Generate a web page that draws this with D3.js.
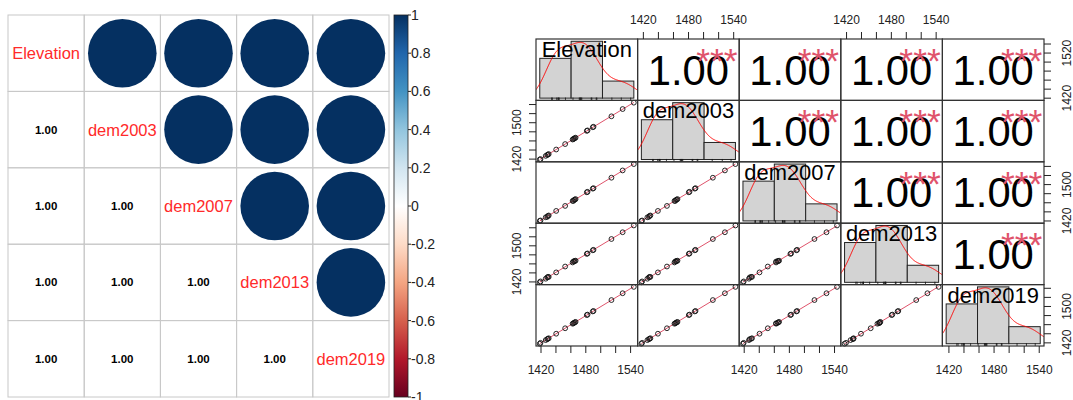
<!DOCTYPE html>
<html>
<head>
<meta charset="utf-8">
<script src="https://cdn.jsdelivr.net/npm/d3@7"></script>
<style>
body { margin: 0; background: #fff; }
svg { display: block; font-family: "Liberation Sans", Arial, sans-serif; }
</style>
</head>
<body>
<div id="chart"></div>
<script>
var varNames = ["Elevation", "dem2003", "dem2007", "dem2013", "dem2019"];

var elevation = [1419, 1420, 1427, 1429, 1430, 1431, 1441, 1453, 1463, 1464, 1465, 1466, 1467, 1482, 1483, 1490, 1491, 1515, 1530, 1545];
var dem2003 = [1418, 1419, 1426, 1428, 1429, 1430, 1440, 1452, 1462, 1463, 1464, 1465, 1466, 1481, 1482, 1489, 1490, 1513, 1529, 1543];
var dem2007 = [1419, 1420, 1427, 1428, 1430, 1431, 1441, 1452, 1463, 1463, 1465, 1466, 1467, 1482, 1483, 1490, 1491, 1514, 1530, 1544];
var dem2013 = [1418, 1420, 1426, 1429, 1430, 1430, 1440, 1453, 1462, 1464, 1465, 1465, 1466, 1481, 1482, 1489, 1490, 1514, 1529, 1544];
var dem2019 = [1417, 1419, 1425, 1427, 1428, 1429, 1439, 1451, 1461, 1462, 1463, 1464, 1465, 1480, 1481, 1488, 1489, 1513, 1528, 1542];

var legendTicks = [-1, -0.8, -0.6, -0.4, -0.2, 0, 0.2, 0.4, 0.6, 0.8, 1];
var corrColors = ["#67001F", "#B2182B", "#D6604D", "#F4A582", "#FDDBC7", "#FFFFFF", "#D1E5F0", "#92C5DE", "#4393C3", "#2166AC", "#053061"];

var axisTicks = [1420, 1440, 1460, 1480, 1500, 1520, 1540];
var xTickLabels = [1420, 1480, 1540];
var yTickLabels = [[1420, 1520], [1420, 1500], [1420, 1500], [1420, 1500], [1420, 1500]];
var histBreaks = [1400, 1450, 1500, 1550];
// critical t (df = 18) for p = .001, .01, .05, .1
var tCritical = [3.922, 2.878, 2.101, 1.734];
var signifSymbols = ["***", "**", "*", ".", " "];

var series = [elevation, dem2003, dem2007, dem2013, dem2019];
var W = 1073, H = 400;

var svg = d3.select("#chart").append("svg")
    .attr("width", W)
    .attr("height", H)
    .style("background-color", "#fff");

function corr(a, b) {
    var ma = d3.mean(a), mb = d3.mean(b), sab = 0, saa = 0, sbb = 0;
    a.forEach(function (v, i) {
        sab += (v - ma) * (b[i] - mb);
        saa += (v - ma) * (v - ma);
        sbb += (b[i] - mb) * (b[i] - mb);
    });
    return sab / Math.sqrt(saa * sbb);
}

function signif(r, n) {
    var t = Math.abs(r) * Math.sqrt((n - 2) / Math.max(1e-12, 1 - r * r));
    for (var k = 0; k < tCritical.length; k++) if (t > tCritical[k]) return signifSymbols[k];
    return signifSymbols[4];
}

// ---------- left: corrplot ----------
var cBand = d3.scaleBand().domain(varNames).range([8, 389]);
var rBand = d3.scaleBand().domain(varNames).range([15, 397]);
var corrColor = d3.scaleLinear().domain(legendTicks).range(corrColors);

var left = svg.append("g");
varNames.forEach(function (rowName, i) {
    varNames.forEach(function (colName, j) {
        var x0 = cBand(colName), y0 = rBand(rowName);
        var w = cBand.bandwidth(), h = rBand.bandwidth();
        var r = corr(series[i], series[j]);
        left.append("rect")
            .attr("x", x0).attr("y", y0)
            .attr("width", w).attr("height", h)
            .attr("fill", "none")
            .attr("stroke", "#c8c8c8");
        if (j > i) {
            left.append("circle")
                .attr("cx", x0 + w / 2)
                .attr("cy", y0 + h / 2)
                .attr("r", 0.45 * Math.sqrt(Math.abs(r)) * Math.min(w, h))
                .attr("fill", corrColor(r));
        } else if (j < i) {
            left.append("text")
                .attr("x", x0 + w / 2)
                .attr("y", y0 + h / 2 + 4)
                .attr("text-anchor", "middle")
                .attr("font-size", "11.5px")
                .attr("font-weight", "bold")
                .attr("fill", "#000")
                .text(r.toFixed(2));
        } else {
            left.append("text")
                .attr("x", x0 + w / 2)
                .attr("y", y0 + h / 2 + 6)
                .attr("text-anchor", "middle")
                .attr("font-size", "16.5px")
                .attr("fill", "#ff2a2a")
                .text(rowName);
        }
    });
});

// colour legend
var legY = d3.scaleLinear().domain([-1, 1]).range([397, 15]);
var grad = svg.append("defs").append("linearGradient")
    .attr("id", "corrGrad")
    .attr("x1", 0).attr("y1", 1).attr("x2", 0).attr("y2", 0);
legendTicks.forEach(function (v) {
    grad.append("stop")
        .attr("offset", (v + 1) / 2)
        .attr("stop-color", corrColor(v));
});
left.append("rect")
    .attr("x", 394).attr("y", legY(1))
    .attr("width", 14).attr("height", legY(-1) - legY(1))
    .attr("fill", "url(#corrGrad)")
    .attr("stroke", "#222")
    .attr("stroke-width", 0.8);
legendTicks.forEach(function (v) {
    left.append("line")
        .attr("x1", 408).attr("x2", 411)
        .attr("y1", legY(v)).attr("y2", legY(v))
        .attr("stroke", "#222");
    left.append("text")
        .attr("x", 411)
        .attr("y", legY(v) + 5)
        .attr("font-size", "14px")
        .attr("fill", "#222")
        .text(String(v));
});

// ---------- right: correlation chart ----------
var px = d3.scaleBand().domain(d3.range(5)).range([536, 1044]);
var py = d3.scaleBand().domain(d3.range(5)).range([39, 346]);
var cw = px.bandwidth(), ch = py.bandwidth();

function padded(ext) {
    var r = ext[1] - ext[0];
    return [ext[0] - 0.04 * r, ext[1] + 0.04 * r];
}

var xs = series.map(function (s, k) {
    return d3.scaleLinear().domain(padded(d3.extent(s))).range([px(k), px(k) + cw]);
});
var ys = series.map(function (s, k) {
    return d3.scaleLinear().domain(padded(d3.extent(s))).range([py(k) + ch, py(k)]);
});

var right = svg.append("g");
var defs = svg.select("defs");

function textWidth(str, size) {
    var t = svg.append("text").attr("font-size", size + "px").text(str);
    var w = t.node().getComputedTextLength();
    t.remove();
    return w;
}

var corFont = 0.8 * cw / textWidth("1.00", 100) * 100;
var starFont = corFont * 0.85;
var labFont = 0.9 * cw / d3.max(varNames, function (d) { return textWidth(d, 100); }) * 100;

function bwNrd0(x) {
    var s = x.slice().sort(d3.ascending);
    var iqr = d3.quantile(s, 0.75) - d3.quantile(s, 0.25);
    var lo = Math.min(d3.deviation(s), iqr / 1.34);
    return 0.9 * lo * Math.pow(s.length, -0.2);
}

function density(x) {
    var bw = bwNrd0(x), n = x.length;
    var lo = d3.min(x) - 3 * bw, hi = d3.max(x) + 3 * bw;
    return d3.range(512).map(function (k) {
        var g = lo + (hi - lo) * k / 511;
        var sum = d3.sum(x, function (v) {
            var u = (g - v) / bw;
            return Math.exp(-0.5 * u * u);
        });
        return [g, sum / (n * bw * Math.sqrt(2 * Math.PI))];
    });
}

series.forEach(function (rowData, i) {
    series.forEach(function (colData, j) {
        var x0 = px(j), y0 = py(i);
        var cell = right.append("g");

        if (i > j) {
            // scatter + smooth
            var pts = colData.map(function (v, n) { return [v, rowData[n]]; });
            var mx = d3.mean(colData), my = d3.mean(rowData);
            var slope = d3.sum(pts, function (p) { return (p[0] - mx) * (p[1] - my); }) /
                d3.sum(pts, function (p) { return (p[0] - mx) * (p[0] - mx); });
            var fitX = d3.extent(colData);
            cell.append("path")
                .datum(fitX)
                .attr("d", d3.line()
                    .x(function (d) { return xs[j](d); })
                    .y(function (d) { return ys[i](my + slope * (d - mx)); }))
                .attr("fill", "none")
                .attr("stroke", "#DF536B")
                .attr("stroke-width", 1);
            cell.selectAll("circle")
                .data(pts)
                .enter().append("circle")
                .attr("cx", function (d) { return xs[j](d[0]); })
                .attr("cy", function (d) { return ys[i](d[1]); })
                .attr("r", 2.4)
                .attr("fill", "none")
                .attr("stroke", "#111")
                .attr("stroke-width", 0.9);
        } else if (i < j) {
            var r = corr(rowData, colData);
            cell.append("text")
                .attr("x", x0 + cw / 2)
                .attr("y", y0 + ch / 2 + 0.358 * corFont)
                .attr("text-anchor", "middle")
                .attr("font-size", corFont + "px")
                .attr("fill", "#000")
                .text(r.toFixed(2));
            cell.append("text")
                .attr("x", x0 + 0.78 * cw)
                .attr("y", y0 + 0.22 * ch + 0.58 * starFont)
                .attr("text-anchor", "middle")
                .attr("font-size", starFont + "px")
                .attr("fill", "#DF536B")
                .text(signif(r, rowData.length));
        } else {
            // histogram + density + rug
            var clipId = "clip" + i;
            defs.append("clipPath").attr("id", clipId)
                .append("rect")
                .attr("x", x0).attr("y", y0)
                .attr("width", cw).attr("height", ch);
            var hx = d3.scaleLinear()
                .domain(padded([histBreaks[0], histBreaks[histBreaks.length - 1]]))
                .range([x0, x0 + cw]);
            var bins = d3.bin()
                .domain([histBreaks[0], histBreaks[histBreaks.length - 1]])
                .thresholds(histBreaks.slice(1, -1))(rowData);
            bins.forEach(function (b) { b.dens = b.length / (rowData.length * (b.x1 - b.x0)); });
            var hy = d3.scaleLinear()
                .domain(padded([0, d3.max(bins, function (b) { return b.dens; })]))
                .range([y0 + ch, y0]);
            cell.selectAll("rect.bar")
                .data(bins)
                .enter().append("rect")
                .attr("class", "bar")
                .attr("x", function (b) { return hx(b.x0); })
                .attr("width", function (b) { return hx(b.x1) - hx(b.x0); })
                .attr("y", function (b) { return hy(b.dens); })
                .attr("height", function (b) { return hy(0) - hy(b.dens); })
                .attr("fill", "#d3d3d3")
                .attr("stroke", "#222")
                .attr("stroke-width", 1);
            cell.append("path")
                .datum(density(rowData))
                .attr("clip-path", "url(#" + clipId + ")")
                .attr("d", d3.line()
                    .x(function (d) { return hx(d[0]); })
                    .y(function (d) { return hy(d[1]); }))
                .attr("fill", "none")
                .attr("stroke", "red")
                .attr("stroke-width", 1);
            cell.selectAll("line.rug")
                .data(rowData)
                .enter().append("line")
                .attr("class", "rug")
                .attr("x1", function (d) { return hx(d); })
                .attr("x2", function (d) { return hx(d); })
                .attr("y1", y0 + ch)
                .attr("y2", y0 + ch - 0.03 * ch - 1)
                .attr("stroke", "#111")
                .attr("stroke-width", 0.8);
            cell.append("text")
                .attr("x", x0 + cw / 2)
                .attr("y", y0 + ch * (1 - 5 / 6) + 0.358 * labFont)
                .attr("text-anchor", "middle")
                .attr("font-size", labFont + "px")
                .attr("fill", "#000")
                .text(varNames[i]);
        }

        cell.append("rect")
            .attr("x", x0).attr("y", y0)
            .attr("width", cw).attr("height", ch)
            .attr("fill", "none")
            .attr("stroke", "#333")
            .attr("stroke-width", 1.2);
    });
});

// axes
function styleAxis(g) {
    g.attr("font-family", null).attr("font-size", 12).style("color", "#222");
    g.select(".domain").remove();
}

d3.range(5).forEach(function (k) {
    var xFmt = function (d) { return xTickLabels.indexOf(d) >= 0 ? d : ""; };
    var yFmt = function (d) { return yTickLabels[k].indexOf(d) >= 0 ? d : ""; };
    if (k % 2 === 1) {
        var gt = right.append("g")
            .attr("transform", "translate(0," + py(0) + ")")
            .call(d3.axisTop(xs[k]).tickValues(axisTicks).tickSize(7).tickFormat(xFmt));
        styleAxis(gt);
        gt.selectAll("text").attr("y", -15.5).attr("dy", 0);

        var gl = right.append("g")
            .attr("transform", "translate(" + px(0) + ",0)")
            .call(d3.axisLeft(ys[k]).tickValues(axisTicks).tickSize(7).tickFormat(yFmt));
        styleAxis(gl);
        gl.selectAll("text")
            .attr("x", 0).attr("dy", 0)
            .attr("text-anchor", "middle")
            .attr("transform", "translate(-15.5,0) rotate(-90)");
    } else {
        var gb = right.append("g")
            .attr("transform", "translate(0," + (py(4) + ch) + ")")
            .call(d3.axisBottom(xs[k]).tickValues(axisTicks).tickSize(7).tickFormat(xFmt));
        styleAxis(gb);
        gb.selectAll("text").attr("y", 28).attr("dy", 0);

        var gr = right.append("g")
            .attr("transform", "translate(" + (px(4) + cw) + ",0)")
            .call(d3.axisRight(ys[k]).tickValues(axisTicks).tickSize(7).tickFormat(yFmt));
        styleAxis(gr);
        gr.selectAll("text")
            .attr("x", 0).attr("dy", 0)
            .attr("text-anchor", "middle")
            .attr("transform", "translate(27,0) rotate(-90)");
    }
});
</script>
</body>
</html>
